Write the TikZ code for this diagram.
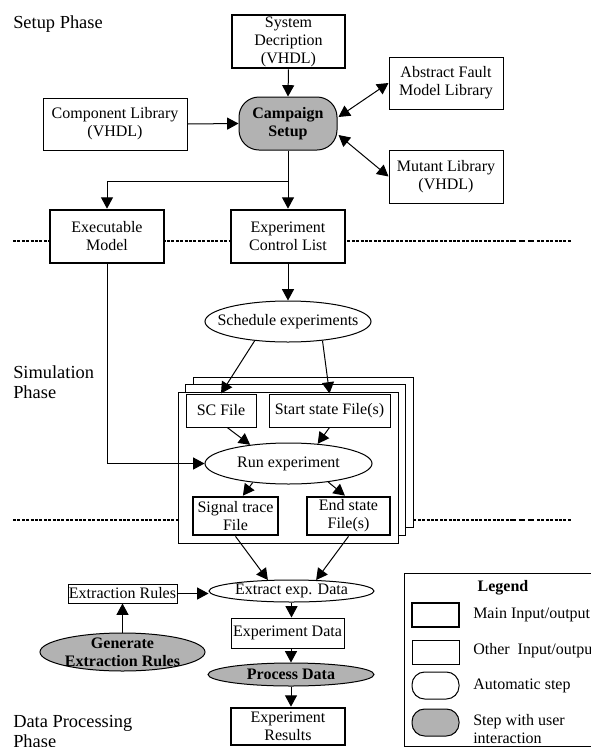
\documentclass[tikz,border=0pt]{standalone}
\usepackage{fontspec}
\setmainfont{Liberation Serif}
\usetikzlibrary{shapes.geometric,arrows.meta,calc}

\definecolor{stepgray}{RGB}{178,178,178}
\newcommand\boxfont{\fontsize{12}{13.5}\selectfont}
\newcommand\phasefont{\fontsize{13.8}{15}\selectfont}

% rectangular node given by its corners (x1,y1)-(x2,y2)
\newcommand\rectnode[7]{%
  \node[#2, minimum width={(#5-#3)*0.75pt}, minimum height={(#6-#4)*0.75pt}]
    (#1) at ({(#3+#5)/2},{(#4+#6)/2}) {#7};}
% oval node of fixed size with its text laid over the centre
\newcommand\ovalnode[7]{%
  \node[#2, minimum width={(#5-#3)*0.75pt}, minimum height={(#6-#4)*0.75pt},
        label={[oval text]center:{#7}}]
    (#1) at ({(#3+#5)/2},{(#4+#6)/2}) {};}

\begin{document}
\begin{tikzpicture}[x=0.75pt,y=-0.75pt,
  tri/.tip={Triangle[length=8.5pt,width=9pt]},
  io/.style={draw, line width=0.75pt, fill=white, inner sep=0pt, align=center, font=\boxfont},
  mainio/.style={io, line width=2pt},
  sheet/.style={draw, line width=0.75pt, fill=white, inner sep=0pt},
  autostep/.style={ellipse, draw, line width=0.75pt, fill=white, inner sep=0pt},
  userstep/.style={autostep, fill=stepgray},
  oval text/.style={inner sep=0pt, align=center, font=\boxfont},
  phase/.style={inner sep=0pt, align=left, font=\phasefont, anchor=north west},
  legtext/.style={inner sep=0pt, align=left, font=\boxfont, anchor=west},
  arr/.style={-tri, line width=0.75pt},
  darr/.style={tri-tri, line width=0.75pt},
  phaseline/.style={line width=1.4pt, dash pattern=on 2.2pt off 1.1pt},
  phaselong/.style={line width=1.4pt, dash pattern=on 4.5pt off 2.2pt}]

\useasboundingbox (0,0) rectangle (591,747);
\clip (0,0) rectangle (591,747);

% phase separators
\draw[phaseline] (13,241) -- (510,241);
\draw[phaselong] (510,241) -- (537,241);
\draw[phaseline] (537,241) -- (571,241);
\draw[phaseline] (13,520) -- (510,520);
\draw[phaselong] (510,520) -- (537,520);
\draw[phaseline] (537,520) -- (571,520);

% phase titles
\node[phase] (setupphase) at (13,15) {Setup Phase};
\node[phase] (simphase) at (13,365) {Simulation\\Phase};
\node[phase] (dataphase) at (13,715) {Data Processing\\Phase};

% setup phase
\rectnode{sysdesc}{mainio}{232}{15}{345}{68}{System\\Decription\\(VHDL)}
\rectnode{complib}{io}{43}{98}{187}{150}{Component Library\\(VHDL)}
\rectnode{campaign}{io, fill=stepgray, rounded corners=15pt, font=\boxfont\bfseries}{239}{97}{337}{150}{Campaign\\Setup}
\rectnode{faultlib}{io}{389}{57}{503}{109}{Abstract Fault\\Model Library}
\rectnode{mutantlib}{io}{389}{150}{503}{203}{Mutant Library\\(VHDL)}
\rectnode{execmodel}{mainio}{50}{210}{164}{263}{Executable\\Model}
\rectnode{ctrllist}{mainio}{231}{210}{345}{263}{Experiment\\Control List}

% simulation phase
\ovalnode{schedule}{autostep}{205}{301}{371}{342}{Schedule experiments}
\rectnode{sheetc}{sheet}{193}{377}{413}{527}{}
\rectnode{sheetb}{sheet}{185}{384}{405}{535}{}
\rectnode{sheeta}{sheet}{178}{392}{398}{543}{}
\rectnode{scfile}{io}{186}{394}{256}{427}{SC File}
\rectnode{startstate}{io}{269}{394}{390}{427}{Start state File(s)}
\ovalnode{runexp}{autostep}{205}{443}{372}{484}{Run experiment}
\rectnode{sigtrace}{mainio}{193}{497}{278}{535}{Signal trace\\File}
\rectnode{endstate}{mainio}{307}{497}{390}{535}{End state\\File(s)}

% data processing phase
\ovalnode{extract}{autostep}{209}{580}{374}{602}{Extract exp. Data}
\rectnode{extrules}{io}{68}{584}{177}{603}{Extraction Rules}
\ovalnode{genrules}{userstep}{40}{633}{205}{671}{\bfseries Generate\\\bfseries Extraction Rules}
\rectnode{expdata}{io}{231}{618}{344}{648}{Experiment Data}
\ovalnode{process}{userstep}{208}{663}{374}{686}{\bfseries Process Data}
\rectnode{results}{mainio}{231}{708}{345}{745}{Experiment\\Results}

% legend
\rectnode{legend}{io}{404}{573}{620}{746}{}
\node[inner sep=0pt, font=\boxfont\bfseries] (legtitle) at (503,588) {Legend};
\rectnode{legmain}{mainio}{412}{603}{459}{627}{}
\node[legtext] (legmaintext) at (473,615) {Main Input/output};
\rectnode{legother}{io}{412}{640}{459}{664}{}
\node[legtext] (legothertext) at (473,651) {Other\ \ Input/output};
\rectnode{legauto}{io, rounded corners=9.5pt}{412}{672}{459}{699}{}
\node[legtext] (legautotext) at (473,686) {Automatic step};
\rectnode{leguser}{io, fill=stepgray, rounded corners=9.5pt}{412}{709}{459}{736}{}
\node[legtext] (legusertext) at (473,729) {Step with user\\interaction};

% connectors: setup phase
\draw[arr] (sysdesc.south) -- (campaign.north);
\draw[arr] (complib.east) -- (campaign.west);
\draw[darr] ($(campaign.east)+(1,-6.5)$) -- (faultlib.west);
\draw[darr] ($(campaign.east)+(1,11.5)$) -- (mutantlib.west);
\draw[arr] (campaign.south) -- ++(0,31) -| (execmodel.north);
\draw[arr] (campaign.south) -- (ctrllist.north);

% connectors: simulation phase
\draw[arr] (ctrllist.south) -- (schedule.north);
\draw[arr] (schedule.210) -- (scfile.north);
\draw[arr] (schedule.-29) -- (startstate.north);
\draw[arr] (execmodel.south) |- (runexp.west);
\draw[arr] (scfile.-70) -- (runexp.154);
\draw[arr] (startstate.south) -- (runexp.34);
\draw[arr] (runexp.208) -- (sigtrace.70);
\draw[arr] (runexp.-25) -- (endstate.100);

% connectors: data processing phase
\draw[arr] (sigtrace.south) -- (extract.155);
\draw[arr] (endstate.south) -- (extract.24);
\draw[arr] (extrules.east) -- (extrules.east -| extract.west);
\draw[arr] (genrules.north) -- (extrules.south);
\draw[arr] (extract.south) -- (extract.south |- expdata.north);
\draw[arr] (expdata.south -| process.north) -- (process.north);
\draw[arr] (process.south) -- (process.south |- results.north);
\end{tikzpicture}
\end{document}
